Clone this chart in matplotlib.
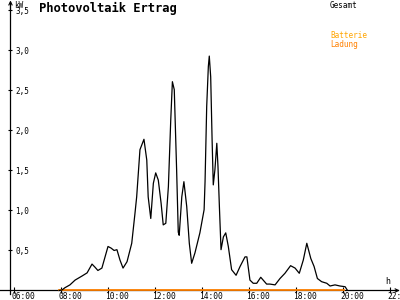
import matplotlib.pyplot as plt
from matplotlib.transforms import ScaledTranslation
import numpy as np

# Photovoltaik Ertrag - Tagesverlauf (Stunden, kW)
hours = [7.92, 8.04, 8.17, 8.38, 8.60, 8.89, 9.11, 9.32, 9.45, 9.57, 9.74,
         10.00, 10.13, 10.26, 10.38, 10.51, 10.64, 10.81, 11.01, 11.15, 11.22,
         11.36, 11.53, 11.65, 11.71, 11.82, 11.93, 12.03, 12.14, 12.26, 12.35,
         12.46, 12.57, 12.67, 12.74, 12.82, 12.92, 12.99, 13.03, 13.14, 13.23,
         13.35, 13.46, 13.56, 13.70, 13.91, 14.09, 14.13, 14.20, 14.27, 14.31,
         14.37, 14.43, 14.48, 14.55, 14.63, 14.68, 14.74, 14.81, 14.91, 15.01,
         15.12, 15.26, 15.45, 15.62, 15.83, 15.91, 16.04, 16.18, 16.33, 16.50,
         16.75, 16.89, 17.11, 17.32, 17.53, 17.77, 17.96, 18.14, 18.31, 18.46,
         18.63, 18.77, 18.91, 19.09, 19.31, 19.45, 19.66, 19.87, 20.09, 20.18]
gesamt = [0.0, 0.006, 0.035, 0.07, 0.13, 0.18, 0.22, 0.33, 0.29, 0.25, 0.28,
          0.55, 0.53, 0.50, 0.51, 0.38, 0.28, 0.36, 0.59, 0.97, 1.17,
          1.76, 1.89, 1.63, 1.17, 0.90, 1.34, 1.47, 1.38, 1.09, 0.82,
          0.84, 1.30, 2.13, 2.61, 2.51, 1.51, 0.73, 0.69, 1.17, 1.36,
          1.05, 0.59, 0.34, 0.47, 0.72, 1.01, 1.36, 2.30, 2.80, 2.93,
          2.67, 1.88, 1.32, 1.51, 1.84, 1.55, 1.05, 0.51, 0.67, 0.72,
          0.55, 0.26, 0.19, 0.30, 0.42, 0.42, 0.13, 0.09, 0.09, 0.165,
          0.08, 0.08, 0.07, 0.15, 0.215, 0.31, 0.28, 0.215, 0.38, 0.59,
          0.40, 0.30, 0.15, 0.11, 0.09, 0.056, 0.07, 0.056, 0.047, 0.006]
batt_hours = [7.92, 20.04]
batterie = [0.0, 0.0]

yticks = [0.5, 1.0, 1.5, 2.0, 2.5, 3.0, 3.5]
ylabels = ["0,5", "1,0", "1,5", "2,0", "2,5", "3,0", "3,5"]
xticks = [6, 8, 10, 12, 14, 16, 18, 20, 22]
xlabels = ["06:00", "08:00", "10:00", "12:00", "14:00", "16:00", "18:00", "20:00", "22:00"]

mono = "DejaVu Sans Mono"

fig = plt.figure(figsize=(4, 3), dpi=100)
ax = fig.add_axes([0, 0, 1, 1])
ax.set_xlim(5.404, 22.426)
ax.set_ylim(-0.119, 3.631)

ax.plot(batt_hours, batterie, color="#ff8000", lw=1.3, zorder=3)
ax.plot(hours, gesamt, color="black", lw=0.9, zorder=4)

for s in ["top", "right"]:
    ax.spines[s].set_visible(False)
ax.spines["left"].set_position(("data", 5.85))
ax.spines["bottom"].set_position(("data", 0))
ax.spines["left"].set_bounds(-0.04, 3.6)
ax.spines["bottom"].set_bounds(5.404, 22.36)
ax.spines["left"].set_linewidth(0.9)
ax.spines["bottom"].set_linewidth(0.9)

ax.annotate("", xy=(5.85, 3.625), xytext=(5.85, 3.5),
            arrowprops=dict(arrowstyle="->", lw=0.8, mutation_scale=6, shrinkA=0, shrinkB=0))
ax.annotate("", xy=(22.41, 0), xytext=(22.2, 0),
            arrowprops=dict(arrowstyle="->", lw=0.8, mutation_scale=6, shrinkA=0, shrinkB=0))

ax.set_yticks(yticks)
ax.set_yticklabels(ylabels, fontfamily=mono, fontsize=5.5)
ax.set_xticks(xticks)
ax.set_xticklabels(xlabels, fontfamily=mono, fontsize=5.7)
ax.tick_params(axis="y", direction="inout", length=3.5, width=0.8, pad=-5.3)
ax.tick_params(axis="x", direction="inout", length=5, width=0.8, pad=-1.5)
for lab in ax.get_yticklabels():
    lab.set_ha("left")
shift = ScaledTranslation(-3 / 100, 0, fig.dpi_scale_trans)
for lab in ax.get_xticklabels():
    lab.set_ha("left")
    lab.set_transform(lab.get_transform() + shift)

def px(x, y):
    return x / 400, 1 - y / 300

fig.text(*px(14, 5), "kW", fontfamily=mono, fontsize=5.5, va="center", ha="left")
fig.text(*px(385, 282), "h", fontfamily=mono, fontsize=6, va="center", ha="left")
fig.text(*px(39, 8), "Photovoltaik Ertrag", fontfamily=mono, fontsize=8.7,
         fontweight="bold", va="center", ha="left")
fig.text(*px(330, 5), "Gesamt", fontfamily=mono, fontsize=5.5, va="center", ha="left")
fig.text(*px(330, 36), "Batterie", fontfamily=mono, fontsize=5.5, color="#ffa500",
         va="center", ha="left")
fig.text(*px(330, 44), "Ladung", fontfamily=mono, fontsize=5.5, color="#ff8000",
         va="center", ha="left")

fig.savefig("out.png", dpi=100)
